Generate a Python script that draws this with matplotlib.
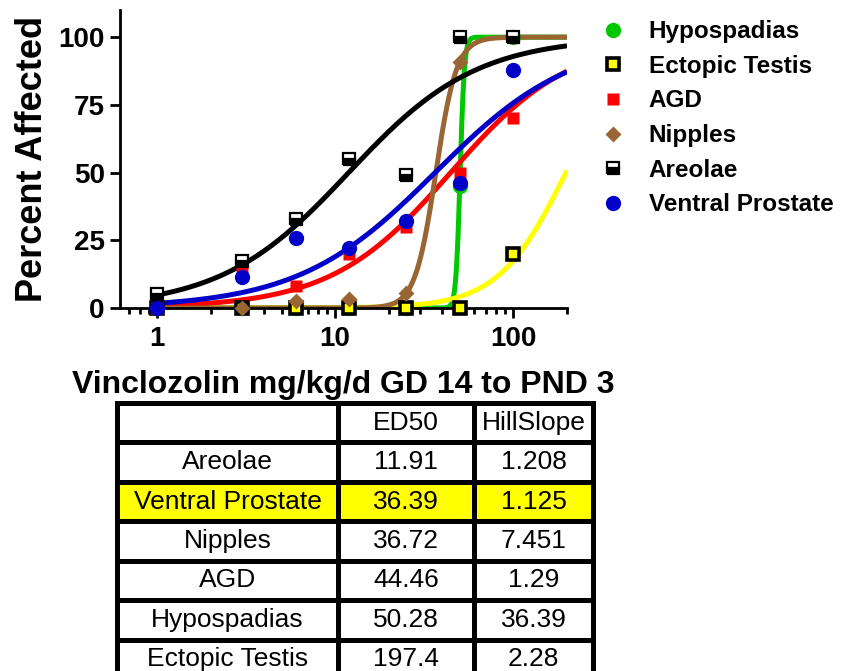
import numpy as np
import matplotlib
matplotlib.use("Agg")
import matplotlib.pyplot as plt

plt.rcParams['font.family'] = ['Liberation Sans', 'DejaVu Sans']

# doses (control plotted at 1)
doses = [1, 3, 6, 12, 25, 50, 100]

hypospadias = [0, 0, 0, 0, 0, 45, 100]
ectopic = [0, 0, 0, 0, 0, 0, 20]
agd = [0, 14, 8, 20, 30, 50, 70]
nipples = [0, 0, 2.5, 3.5, 5.5, 91, 100]
areolae = [5, 17.5, 33, 55, 49, 100, 100]
prostate = [0, 11.5, 26, 22, 32, 46, 88]

# fitted parameters from the table
table_names = ["Areolae", "Ventral Prostate", "Nipples", "AGD", "Hypospadias", "Ectopic Testis"]
ed50 = [11.91, 36.39, 36.72, 44.46, 50.28, 197.4]
hill = [1.208, 1.125, 7.451, 1.29, 36.39, 2.28]
ed50_txt = ["11.91", "36.39", "36.72", "44.46", "50.28", "197.4"]
hill_txt = ["1.208", "1.125", "7.451", "1.29", "36.39", "2.28"]

fig = plt.figure(figsize=(8.41, 6.71), dpi=100)
ax = fig.add_axes([0.1427, 0.541, 0.5315, 0.444])

xs = np.geomspace(1, 200, 500)
def hill_curve(name):
    i = table_names.index(name)
    return 100.0 / (1 + (ed50[i] / xs) ** hill[i])

# curves
curve_order = [("Hypospadias", "#00C800"), ("Ectopic Testis", "#FFFF00"), ("AGD", "#FF0000"),
               ("Nipples", "#996633"), ("Areolae", "black"), ("Ventral Prostate", "#0000C8")]
for name, c in curve_order:
    ax.plot(xs, hill_curve(name), color=c, lw=3.6, zorder=2, solid_capstyle='butt')

# markers
h1, = ax.plot(doses, hypospadias, 'o', color="#00C800", ms=11, mec='none', clip_on=False, zorder=3, label="Hypospadias")
h2, = ax.plot(doses, ectopic, 's', mfc="#FFFF00", mec='black', mew=2.6, ms=9, clip_on=False, zorder=3, label="Ectopic Testis")
h3, = ax.plot(doses, agd, 's', color="#FF0000", ms=9, mec='none', clip_on=False, zorder=3, label="AGD")
h4, = ax.plot(doses, nipples, 'D', color="#996633", ms=8.5, mec='none', clip_on=False, zorder=3, label="Nipples")
h5, = ax.plot(doses, areolae, 's', fillstyle='bottom', mfc='black', mfcalt='white', mec='black', mew=1.6, ms=9,
              clip_on=False, zorder=3, label="Areolae")
h6, = ax.plot(doses, prostate, 'o', color="#0000C8", ms=11, mec='none', clip_on=False, zorder=3, label="Ventral Prostate")

ax.set_xscale('log')
ax.set_xlim(0.62, 200)
ax.set_ylim(0, 110)
ax.set_yticks([0, 25, 50, 75, 100])
ax.set_xticks([1, 10, 100])
ax.set_xticklabels(["1", "10", "100"])
ax.xaxis.set_minor_locator(matplotlib.ticker.LogLocator(subs=np.arange(2, 10)))
ax.xaxis.set_minor_formatter(matplotlib.ticker.NullFormatter())
for s in ['top', 'right']:
    ax.spines[s].set_visible(False)
for s in ['left', 'bottom']:
    ax.spines[s].set_linewidth(2)
ax.tick_params(axis='both', which='major', length=7, width=2, labelsize=20, pad=4)
ax.tick_params(axis='x', which='major', pad=6)
ax.tick_params(axis='x', which='minor', length=4, width=2)
for lab in ax.get_xticklabels() + ax.get_yticklabels():
    lab.set_fontweight('bold')
ax.set_ylabel("Percent Affected", fontsize=26, fontweight='bold', labelpad=6)
ax.set_xlabel("Vinclozolin mg/kg/d GD 14 to PND 3", fontsize=23, fontweight='bold', labelpad=13)

leg = ax.legend(handles=[h1, h2, h3, h4, h5, h6], loc='upper left', bbox_to_anchor=(589 / 841, 1 - 8 / 671),
                bbox_transform=fig.transFigure, frameon=False, borderpad=0, handlelength=1.0,
                handletextpad=0.95, labelspacing=0.48, prop={'size': 17.5, 'weight': 'bold'})

# table
tax = fig.add_axes([117 / 841, -8 / 671, 476 / 841, 276 / 671])
tax.axis('off')
cell_text = [["", "ED50", "HillSlope"]] + [[n, e, h] for n, e, h in zip(table_names, ed50_txt, hill_txt)]
tbl = tax.table(cellText=cell_text, colWidths=[221, 136, 119], bbox=[0, 0, 1, 1], cellLoc='center')
tbl.auto_set_font_size(False)
tbl.set_fontsize(19)
for (r, c), cell in tbl.get_celld().items():
    cell.set_linewidth(3.6)
    cell.set_edgecolor('black')
    if r == 2:
        cell.set_facecolor('#FFFF00')

fig.savefig("out.png", dpi=100)
